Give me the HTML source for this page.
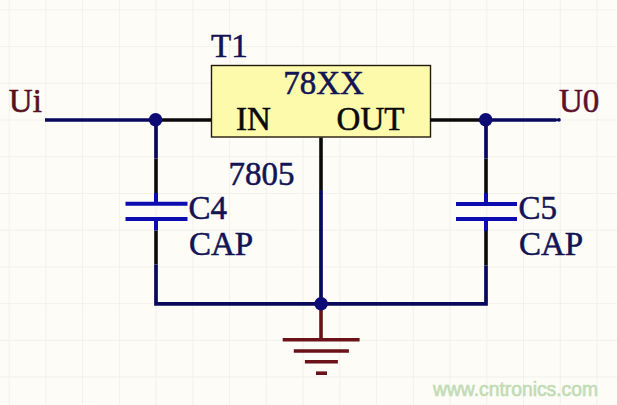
<!DOCTYPE html>
<html><head><meta charset="utf-8"><style>
html,body{margin:0;padding:0;background:#fdfcf7;width:617px;height:405px;overflow:hidden}
svg{display:block}
text{font-family:"Liberation Serif",serif;font-size:33px;stroke-width:0.55px}
</style></head><body>
<svg width="617" height="405" viewBox="0 0 617 405">
<rect x="0" y="0" width="617" height="405" fill="#fdfcf7"/>
<!-- grid -->
<g stroke="#f2f1ec" stroke-width="1" fill="none">
<path d="M9.2 0V405M45.9 0V405M82.6 0V405M119.4 0V405M156.1 0V405M192.9 0V405M229.6 0V405M266.3 0V405M303.1 0V405M339.8 0V405M376.6 0V405M413.3 0V405M450.0 0V405M486.8 0V405M523.5 0V405M560.3 0V405M597.0 0V405"/>
<path d="M0 9.9H617M0 46.6H617M0 83.3H617M0 120.0H617M0 156.7H617M0 193.5H617M0 230.2H617M0 266.9H617M0 303.6H617M0 340.3H617M0 377.0H617"/>
</g>
<!-- regulator box -->
<rect x="211.5" y="65.5" width="219" height="71.5" fill="#fdfaac" stroke="#241a0a" stroke-width="1.4"/>
<!-- pins (black) -->
<g stroke="#0a0a0a" stroke-width="3.6" fill="none">
<path d="M162 120H211"/>
<path d="M430 120H480"/>
<path d="M321 137.5V190"/>
<path d="M156 158.5V193"/>
<path d="M156 230.5V264.5"/>
<path d="M486 158.5V193"/>
<path d="M486 231V265.5"/>
</g>
<!-- wires (navy) -->
<g stroke="#08085c" stroke-width="3.7" fill="none" stroke-linecap="butt">
<path d="M45 120H156"/>
<path d="M486 120H556.3"/>
<path d="M156 120V158.5"/>
<path d="M486 120V158.5"/>
<path d="M156 264.5V303.8H486V265.5"/>
<path d="M321 190V303.8"/>
</g>
<rect x="556" y="118.7" width="2.6" height="2.4" fill="#08085c"/><circle cx="559" cy="119.9" r="1.8" fill="#08085c"/>
<!-- capacitors -->
<g stroke="#0c0cb0" stroke-width="4" fill="none">
<path d="M156 193V203.7M156 218.9V230.5"/>
<path d="M125.5 203.7H187.5M125.5 218.9H187.5"/>
<path d="M486 193V204M486 219V231"/>
<path d="M456 204H517M456 219H517"/>
</g>
<!-- ground -->
<g stroke="#6a1218" stroke-width="3.6" fill="none">
<path d="M321 303.8V339.7"/>
<path d="M282.7 339.7H359.6"/>
<path d="M293.8 351H348.9"/>
<path d="M304.9 361.8H337.9"/>
<path d="M316 373.2H327"/>
</g>
<!-- junctions -->
<g fill="#0c0c74">
<circle cx="155.6" cy="119.8" r="6.8"/>
<circle cx="485.7" cy="119.8" r="6.8"/>
<circle cx="321.1" cy="303.8" r="6.8"/>
</g>
<!-- texts -->
<text x="211.1" y="56.8" fill="#121455" stroke="#121455">T1</text>
<text x="283.2" y="93.9" fill="#121455" stroke="#121455">78XX</text>
<text x="236.1" y="129.8" fill="#0a0a0a" stroke="#0a0a0a">IN</text>
<text x="336.6" y="130" fill="#0a0a0a" stroke="#0a0a0a">OUT</text>
<text x="8.8" y="111.8" fill="#581020" stroke="#581020">Ui</text>
<text x="559" y="111.8" fill="#5e1028" stroke="#5e1028">U0</text>
<text x="228.5" y="185" fill="#121455" stroke="#121455">7805</text>
<text x="188.5" y="218.9" fill="#121455" stroke="#121455">C4</text>
<text x="188.9" y="255.1" fill="#121455" stroke="#121455">CAP</text>
<text x="518.5" y="219" fill="#121455" stroke="#121455">C5</text>
<text x="518.9" y="255" fill="#121455" stroke="#121455">CAP</text>
<text x="433" y="396" fill="#c2dcb6" stroke="#c2dcb6" textLength="165" lengthAdjust="spacingAndGlyphs" style="font-family:'Liberation Sans',sans-serif;font-size:20.5px;stroke-width:0.7px">www.cntronics.com</text>
</svg>
</body></html>
